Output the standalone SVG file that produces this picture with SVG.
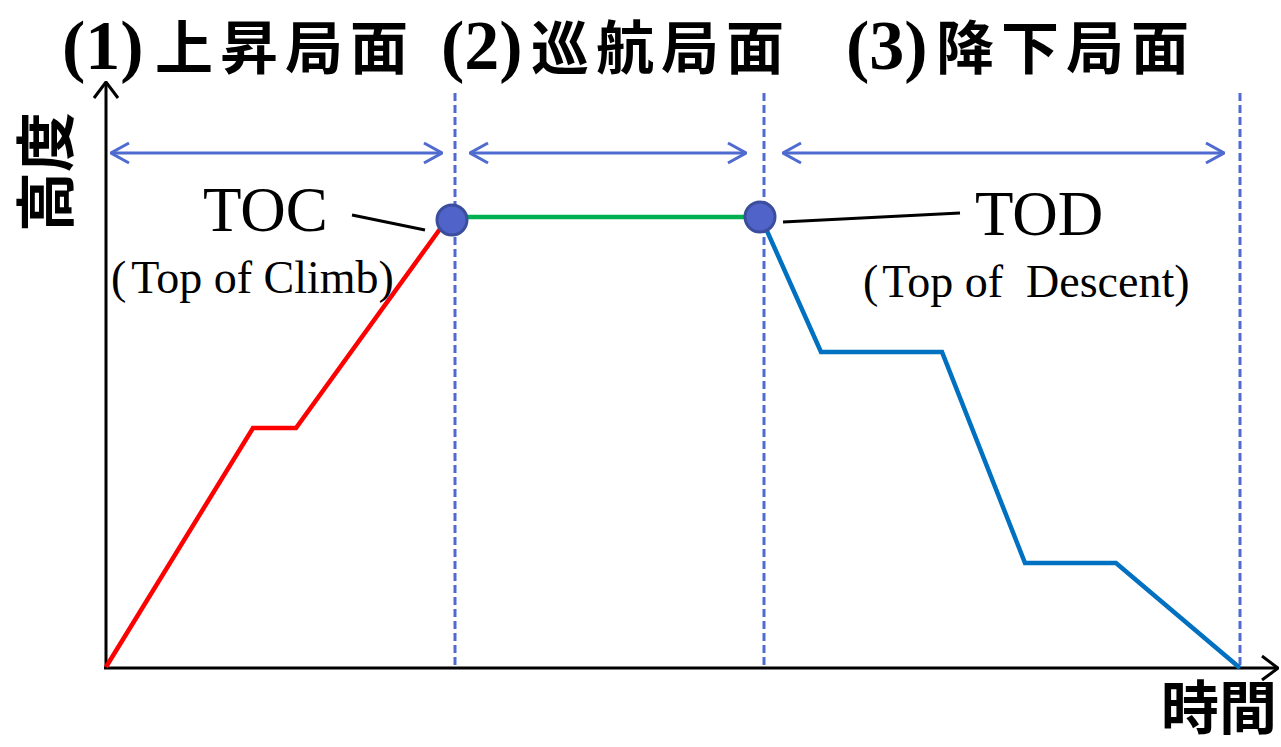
<svg xmlns="http://www.w3.org/2000/svg" width="1281" height="747" viewBox="0 0 1281 747">
<defs>
<style>
.cjk{font-family:"Noto Sans CJK JP","Noto Sans CJK SC",sans-serif;font-weight:bold;fill:#000}
.num{font-family:"Liberation Serif",serif;font-weight:bold;fill:#000}
.lbl{font-family:"Liberation Serif",serif;fill:#000;white-space:pre}
.axis{stroke:#000;stroke-width:3;fill:none}
.dash{stroke:#4f6bd0;stroke-width:3;stroke-dasharray:8 4;fill:none}
.span{stroke:#4f6bd0;stroke-width:3;fill:none}
.leader{stroke:#000;stroke-width:3;fill:none}
.dot{fill:#4f63c8;stroke:#3b4e9e;stroke-width:3}
</style>
<marker id="open" viewBox="0 0 20 24" refX="19" refY="12" markerWidth="20" markerHeight="24" markerUnits="userSpaceOnUse" orient="auto-start-reverse">
<path d="M1,2 L19,12 L1,22" fill="none" stroke="#4f6bd0" stroke-width="3"/>
</marker>
<marker id="axhead" viewBox="0 0 18 26" refX="17" refY="13" markerWidth="18" markerHeight="26" markerUnits="userSpaceOnUse" orient="auto">
<path d="M1,1 L17,13 L1,25" fill="none" stroke="#000" stroke-width="3"/>
</marker>
</defs>
<g id="title">
<text class="num" x="62" y="69" font-size="70">(1)</text>
<text class="cjk" x="155" y="69" font-size="58" letter-spacing="7">上昇局面</text>
<text class="num" x="441" y="69" font-size="70">(2)</text>
<text class="cjk" x="531" y="69" font-size="58" letter-spacing="7">巡航局面</text>
<text class="num" x="846" y="69" font-size="70">(3)</text>
<text class="cjk" x="936" y="69" font-size="58" letter-spacing="7">降下局面</text>
</g>
<g id="axes">
<line class="axis" x1="106" y1="668" x2="106" y2="82" marker-end="url(#axhead)"/>
<line class="axis" x1="104" y1="668" x2="1278" y2="668" marker-end="url(#axhead)"/>
<text class="cjk" transform="translate(68,172) rotate(-90)" text-anchor="middle" font-size="60">高度</text>
<text class="cjk" x="1161" y="729" font-size="58">時間</text>
</g>
<g id="connectors">
<line class="dash" x1="455" y1="93" x2="455" y2="668"/>
<line class="dash" x1="764" y1="93" x2="764" y2="668"/>
<line class="dash" x1="1240" y1="93" x2="1240" y2="668"/>
<line class="span" x1="111" y1="153" x2="442" y2="153" marker-start="url(#open)" marker-end="url(#open)"/>
<line class="span" x1="470" y1="153" x2="746" y2="153" marker-start="url(#open)" marker-end="url(#open)"/>
<line class="span" x1="783" y1="153" x2="1224" y2="153" marker-start="url(#open)" marker-end="url(#open)"/>
<polyline points="106,667 253,428 296,428 440,229" fill="none" stroke="#ff0000" stroke-width="4.5"/>
<line x1="452" y1="217" x2="760" y2="217" stroke="#00b050" stroke-width="4.5"/>
<polyline points="763,222 821,352 942,352 1025,563 1116,563 1240,668" fill="none" stroke="#0070c0" stroke-width="4.5"/>
<line class="leader" x1="352" y1="215" x2="425" y2="230"/>
<line class="leader" x1="783" y1="222" x2="960" y2="213"/>
</g>
<g id="toc">
<circle class="dot" cx="452" cy="220" r="15"/>
<text class="lbl" x="203" y="231" font-size="63">TOC</text>
<text class="lbl" x="111" y="293" font-size="46">(<tspan dx="5">Top of Climb</tspan>)</text>
</g>
<g id="tod">
<circle class="dot" cx="760" cy="217" r="15"/>
<text class="lbl" x="975" y="235" font-size="63">TOD</text>
<text class="lbl" x="863" y="297" font-size="46">(<tspan dx="4">Top of  Descent</tspan>)</text>
</g>
</svg>
